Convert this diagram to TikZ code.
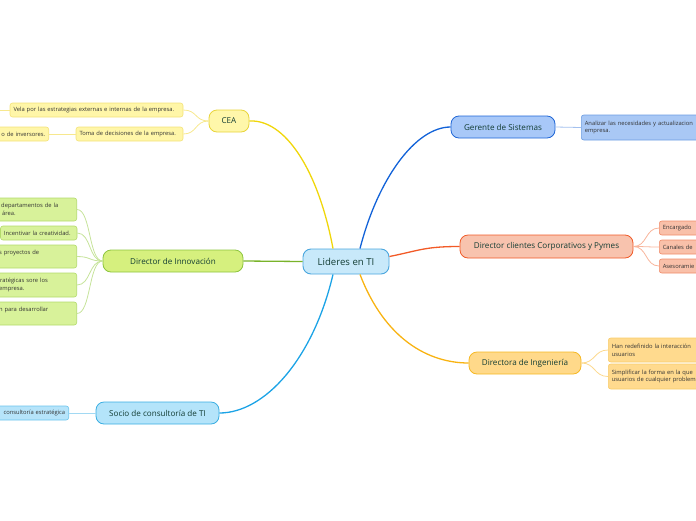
\documentclass[tikz,border=0pt]{standalone}
\usepackage{fontspec}
\setmainfont{Open Sans}
\usetikzlibrary{calc}
\definecolor{txtmain}{HTML}{123C33}
\definecolor{txtsub}{HTML}{333333}
\definecolor{cenfill}{HTML}{C8E9FA}\definecolor{cendraw}{HTML}{4AA6DE}
\definecolor{yfill}{HTML}{FFF7AA}\definecolor{ydraw}{HTML}{E8D43A}\definecolor{yline}{HTML}{F0D60A}
\definecolor{ysfill}{HTML}{FFF6A8}\definecolor{ysdraw}{HTML}{F3E27A}\definecolor{ysline}{HTML}{F7E88E}
\definecolor{gfill}{HTML}{D6F07E}\definecolor{gdraw}{HTML}{8DC53E}\definecolor{gline}{HTML}{79B32A}
\definecolor{gsfill}{HTML}{D8F29A}\definecolor{gsdraw}{HTML}{B3DA6C}\definecolor{gsline}{HTML}{C6E39A}
\definecolor{bfill}{HTML}{B4E4FA}\definecolor{bdraw}{HTML}{3AAEE2}\definecolor{bline}{HTML}{1CA3E6}
\definecolor{bsfill}{HTML}{B6E4FA}\definecolor{bsdraw}{HTML}{6CC4EC}\definecolor{bsline}{HTML}{A2D9F3}
\definecolor{dfill}{HTML}{A8C8F8}\definecolor{ddraw}{HTML}{1F66D6}\definecolor{dline}{HTML}{1262D8}
\definecolor{dsfill}{HTML}{A9C8F5}\definecolor{dsdraw}{HTML}{6D9DE2}\definecolor{dsline}{HTML}{A3C0EE}
\definecolor{ofill}{HTML}{F8C3AE}\definecolor{odraw}{HTML}{F05A28}\definecolor{oline}{HTML}{F25A27}
\definecolor{osfill}{HTML}{F9C0A9}\definecolor{osdraw}{HTML}{F08C6A}\definecolor{osline}{HTML}{F8B59C}
\definecolor{afill}{HTML}{FFD98A}\definecolor{adraw}{HTML}{F6B823}\definecolor{aline}{HTML}{F8B312}
\definecolor{asfill}{HTML}{FFDA8E}\definecolor{asdraw}{HTML}{F8CC6A}\definecolor{asline}{HTML}{FCD98E}
\tikzset{
  mainnode/.style={draw, rounded corners=8pt, line width=0.8pt, inner sep=0pt, text=txtmain,
    font=\fontsize{8.1}{9.5}\selectfont},
  central/.style={mainnode, font=\fontsize{9.6}{11}\selectfont, line width=0.9pt},
  subnode/.style={draw, rounded corners=2.5pt, line width=0.6pt, inner xsep=3.5pt, inner ysep=0pt,
    text=txtsub, font=\fontsize{5.8}{7.8}\selectfont, align=left},
  mainline/.style={line width=1.3pt},
  subline/.style={line width=0.8pt},
}
\begin{document}
\begin{tikzpicture}[x=1pt,y=-1pt]
\useasboundingbox (0,0) rectangle (696,520);
\clip (0,0) rectangle (696,520);

% central
\node[central, fill=cenfill, draw=cendraw, minimum width=86pt, minimum height=25pt] (c) at (346,261.5) {Lideres en TI};

% main topics
\node[mainnode, fill=yfill, draw=ydraw, minimum width=40pt, minimum height=22pt] (cea) at (229,121) {CEA};
\node[mainnode, fill=gfill, draw=gdraw, minimum width=140pt, minimum height=22pt] (inn) at (173,261) {Director de Innovación};
\node[mainnode, fill=bfill, draw=bdraw, minimum width=123pt, minimum height=22pt] (soc) at (157.5,413) {Socio de consultoría de TI};
\node[mainnode, fill=dfill, draw=ddraw, minimum width=104pt, minimum height=22pt] (ger) at (503,127) {Gerente de Sistemas};
\node[mainnode, fill=ofill, draw=odraw, minimum width=173pt, minimum height=23pt] (cli) at (546.5,246.5) {Director clientes Corporativos y Pymes};
\node[mainnode, fill=afill, draw=adraw, minimum width=112pt, minimum height=22pt] (ing) at (525,363) {Directora de Ingeniería};

% main connectors
\draw[mainline, yline] ($(c.north)+(-13,0)$) .. controls +(-15,-80) and +(35,-2) .. (cea.east);
\draw[mainline, dline] ($(c.north)+(14,0)$) .. controls +(18,-70) and +(-35,0) .. (ger.west);
\draw[mainline, gline] (c.west) -- (inn.east);
\draw[mainline, bline] ($(c.south)+(-13,0)$) .. controls +(-20,85) and +(45,0) .. (soc.east);
\draw[mainline, oline] ($(c.east)+(0,-5)$) .. controls +(30,-6) and +(-35,0) .. (cli.west);
\draw[mainline, aline] ($(c.south)+(14,0)$) .. controls +(25,65) and +(-40,0) .. (ing.west);

% CEA children
\node[subnode, fill=ysfill, draw=ysdraw, text width=166pt, minimum height=14pt] (y1) at (96.5,110) {Vela por las estrategias externas e internas de la empresa.};
\node[subnode, fill=ysfill, draw=ysdraw, text width=100pt, minimum height=14pt] (y2) at (129.5,134) {Toma de decisiones de la empresa.};
\node[subnode, fill=ysfill, draw=ysdraw, text width=103pt, minimum height=14pt, align=right, anchor=east] (y3) at (49,134) {o de inversores.};
\coordinate (y4) at (-20,110);
\draw[subline, ysline] (cea.west) .. controls +(-14,0) and +(14,0) .. (y1.east);
\draw[subline, ysline] (cea.west) .. controls +(-14,0) and +(14,0) .. (y2.east);
\draw[subline, ysline] (y2.west) -- (y3.east);
\draw[subline, ysline] (y1.west) -- (y4);

% Innovacion children
\node[subnode, fill=gsfill, draw=gsdraw, text width=82pt, minimum height=23pt, anchor=east] (g1) at (77,209.5) {\hspace*{10pt}departamentos de la\\\hspace*{11pt}área.};
\node[subnode, fill=gsfill, draw=gsdraw, text width=69.5pt, minimum height=14pt] (g2) at (38.75,233) {Incentivar la creatividad.};
\node[subnode, fill=gsfill, draw=gsdraw, text width=82pt, minimum height=23pt, anchor=east] (g3) at (77,256.5) {\hspace*{8pt}s proyectos de\\\mbox{}};
\node[subnode, fill=gsfill, draw=gsdraw, text width=82pt, minimum height=24pt, anchor=east] (g4) at (77,285) {\hspace*{7pt}tratégicas sore los\\\hspace*{8pt}empresa.};
\node[subnode, fill=gsfill, draw=gsdraw, text width=82pt, minimum height=23pt, anchor=east] (g5) at (77,313.5) {\hspace*{8pt}n para desarrollar\\\mbox{}};
\foreach \g in {g1,g2,g3,g4,g5}
  \draw[subline, gsline] (inn.west) .. controls +(-14,0) and +(14,0) .. (\g.east);

% Socio child
\node[subnode, fill=bsfill, draw=bsdraw, text width=93pt, minimum height=14pt, align=right, anchor=east] (s1) at (69,413) {consultoría estratégica};
\draw[subline, bsline] (soc.west) -- (s1.east);

% Gerente child
\node[subnode, fill=dsfill, draw=dsdraw, text width=143pt, minimum height=25pt, anchor=west] (d1) at (581,127.5) {Analizar las necesidades y actualizacion\\empresa.};
\draw[subline, dsline] (ger.east) -- (d1.west);

% Clientes children
\node[subnode, fill=osfill, draw=osdraw, text width=73pt, minimum height=14pt, anchor=west] (o1) at (659,228) {Encargado};
\node[subnode, fill=osfill, draw=osdraw, text width=73pt, minimum height=14pt, anchor=west] (o2) at (659,247) {Canales de};
\node[subnode, fill=osfill, draw=osdraw, text width=73pt, minimum height=14pt, anchor=west] (o3) at (659,266) {Asesoramie};
\foreach \o in {o1,o2,o3}
  \draw[subline, osline] (cli.east) .. controls +(14,0) and +(-14,0) .. (\o.west);

% Ingenieria children
\node[subnode, fill=asfill, draw=asdraw, text width=113pt, minimum height=24pt, anchor=west] (a1) at (608,350) {Han redefinido la interacción\\usuarios};
\node[subnode, fill=asfill, draw=asdraw, text width=113pt, minimum height=25pt, anchor=west] (a2) at (608,376.5) {Simplificar la forma en la que\\usuarios de cualquier problem};
\foreach \a in {a1,a2}
  \draw[subline, asline] (ing.east) .. controls +(14,0) and +(-14,0) .. (\a.west);
\end{tikzpicture}
\end{document}
